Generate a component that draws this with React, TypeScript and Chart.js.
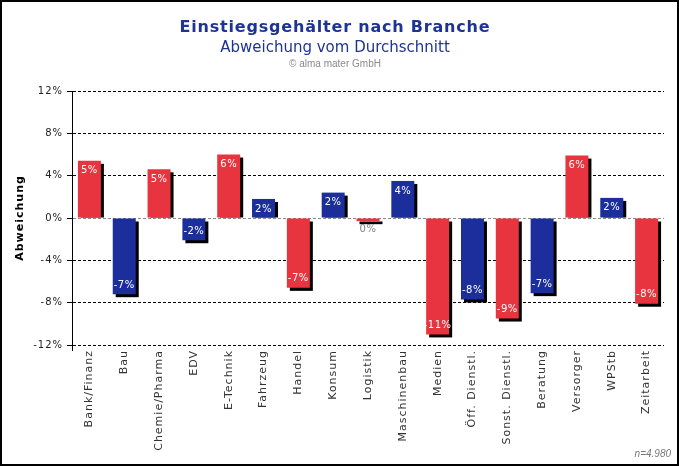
import React, { useEffect, useRef } from 'react';
import { Chart, registerables } from 'chart.js';

Chart.register(...registerables);

// ---- data ----
const categories = [
  'Bank/Finanz', 'Bau', 'Chemie/Pharma', 'EDV', 'E-Technik', 'Fahrzeug', 'Handel',
  'Konsum', 'Logistik', 'Maschinenbau', 'Medien', 'Öff. Dienstl.', 'Sonst. Dienstl.',
  'Beratung', 'Versorger', 'WPStb', 'Zeitarbeit',
];
const deviation = [5.4, -7.2, 4.6, -2.1, 6.0, 1.8, -6.6, 2.4, -0.3, 3.5, -11.0, -7.7, -9.5, -7.1, 5.9, 1.9, -8.1];
const yMin = -12;
const yMax = 12;
const yStep = 4;
const titleText = 'Einstiegsgehälter nach Branche';
const subtitleText = 'Abweichung vom Durchschnitt';
const creditText = '© alma mater GmbH';
const sampleText = 'n=4.980';
const yAxisTitle = 'Abweichung';

const RED = '#e8343f';
const BLUE = '#1c2e9b';
const barColors = categories.map((_, i) => (i % 2 === 0 ? RED : BLUE));

const W = 679;
const H = 466;

const decorPlugin = {
  id: 'decor',
  beforeDraw(chart: any) {
    const ctx = chart.ctx;
    ctx.save();
    ctx.fillStyle = '#fff';
    ctx.fillRect(0, 0, W, H);
    ctx.restore();
    ctx.letterSpacing = '1px';
  },
  beforeDatasetsDraw(chart: any) {
    const ctx = chart.ctx;
    const meta = chart.getDatasetMeta(0);
    ctx.save();
    ctx.letterSpacing = '0px';
    ctx.fillStyle = '#000';
    meta.data.forEach((bar: any) => {
      const { x, y, base, width } = bar.getProps(['x', 'y', 'base', 'width'], true);
      const left = x - width / 2 + 3;
      const top = Math.min(y, base) + 3;
      let bottom = Math.max(y, base) + 3;
      if (y < base) bottom = base; // positive bar: no shadow below zero line
      ctx.fillRect(left, top, width, bottom - top);
    });
    ctx.restore();
  },
  afterDatasetsDraw(chart: any) {
    const ctx = chart.ctx;
    const meta = chart.getDatasetMeta(0);
    ctx.save();
    ctx.letterSpacing = '0.5px';
    ctx.font = '10px "DejaVu Sans"';
    ctx.textAlign = 'center';
    ctx.textBaseline = 'middle';
    meta.data.forEach((bar: any, i: number) => {
      const { x, y, base } = bar.getProps(['x', 'y', 'base'], true);
      const v = deviation[i];
      const label = String(Math.round(v) === 0 ? 0 : Math.round(v)) + '%';
      const h = Math.abs(base - y);
      if (h < 14) {
        ctx.fillStyle = '#808080';
        ctx.fillText(label, x, Math.max(y, base) + 8);
      } else if (v >= 0) {
        ctx.fillStyle = '#fff';
        ctx.fillText(label, x, y + 10);
      } else {
        ctx.fillStyle = '#fff';
        ctx.fillText(label, x, y - 9);
      }
    });
    ctx.restore();
  },
  afterDraw(chart: any) {
    const ctx = chart.ctx;
    const area = chart.chartArea;
    ctx.save();
    ctx.letterSpacing = '0px';
    // axis extension below plot
    ctx.strokeStyle = '#000';
    ctx.lineWidth = 1;
    ctx.beginPath();
    ctx.moveTo(Math.round(area.left) + 0.5, area.bottom);
    ctx.lineTo(Math.round(area.left) + 0.5, area.bottom + 6);
    ctx.stroke();

    const cx = 335;
    ctx.textAlign = 'center';
    ctx.textBaseline = 'alphabetic';
    ctx.fillStyle = '#1e3494';
    ctx.letterSpacing = '0.8px';
    ctx.font = 'bold 16px "DejaVu Sans"';
    ctx.fillText(titleText, cx, 32);
    ctx.letterSpacing = '0px';
    ctx.font = '15px "DejaVu Sans"';
    ctx.fillText(subtitleText, cx, 52);
    ctx.fillStyle = '#8a8a8a';
    ctx.font = '10px "Liberation Sans"';
    ctx.fillText(creditText, cx, 67);

    ctx.textAlign = 'right';
    ctx.fillStyle = '#777';
    ctx.font = 'italic 10px "Liberation Sans"';
    ctx.fillText(sampleText, 671, 457);

    // frame
    ctx.strokeStyle = '#000';
    ctx.lineWidth = 2;
    ctx.strokeRect(1, 1, W - 2, H - 2);
    ctx.restore();
  },
};

export default function App() {
  const ref = useRef<HTMLCanvasElement | null>(null);

  useEffect(() => {
    if (!ref.current) return;
    const chart = new Chart(ref.current, {
      type: 'bar',
      data: {
        labels: categories,
        datasets: [
          {
            data: deviation,
            backgroundColor: barColors,
            borderWidth: 0,
            categoryPercentage: 1,
            barPercentage: 0.66,
          },
        ],
      },
      options: {
        responsive: false,
        animation: false,
        devicePixelRatio: 1,
        layout: { padding: { top: 91, right: 15, bottom: 0, left: 0 } },
        plugins: {
          legend: { display: false },
          tooltip: { enabled: false },
          title: { display: false },
        },
        scales: {
          x: {
            grid: { display: false, drawTicks: false },
            border: { display: false },
            ticks: {
              autoSkip: false,
              maxRotation: 90,
              minRotation: 90,
              padding: 5,
              color: '#333',
              font: { family: 'DejaVu Sans', size: 11 },
            },
            afterFit: (s: any) => {
              s.height = 121;
            },
          },
          y: {
            min: yMin,
            max: yMax,
            ticks: {
              stepSize: yStep,
              padding: 4,
              color: '#222',
              font: { family: 'DejaVu Sans', size: 10 },
              callback: (v: any) => v + '%',
            },
            grid: {
              color: (c: any) => (c.tick && c.tick.value === 0 ? '#8c8c8c' : '#000'),
              tickColor: '#000',
              tickLength: 5,
              lineWidth: 1,
            },
            border: { display: true, color: '#000', width: 1, dash: [3, 2] },
            title: {
              display: true,
              text: yAxisTitle,
              color: '#000',
              font: { family: 'DejaVu Sans', size: 11, weight: 'bold' },
              padding: { top: 14, bottom: 0 },
            },
            afterFit: (s: any) => {
              s.width = 72;
            },
          },
        },
      },
      plugins: [decorPlugin],
    });
    return () => chart.destroy();
  }, []);

  return (
    <div style={{ position: 'absolute', left: 0, top: 0, width: W, height: H }}>
      <canvas ref={ref} width={W} height={H} style={{ display: 'block', width: W, height: H }} />
    </div>
  );
}
